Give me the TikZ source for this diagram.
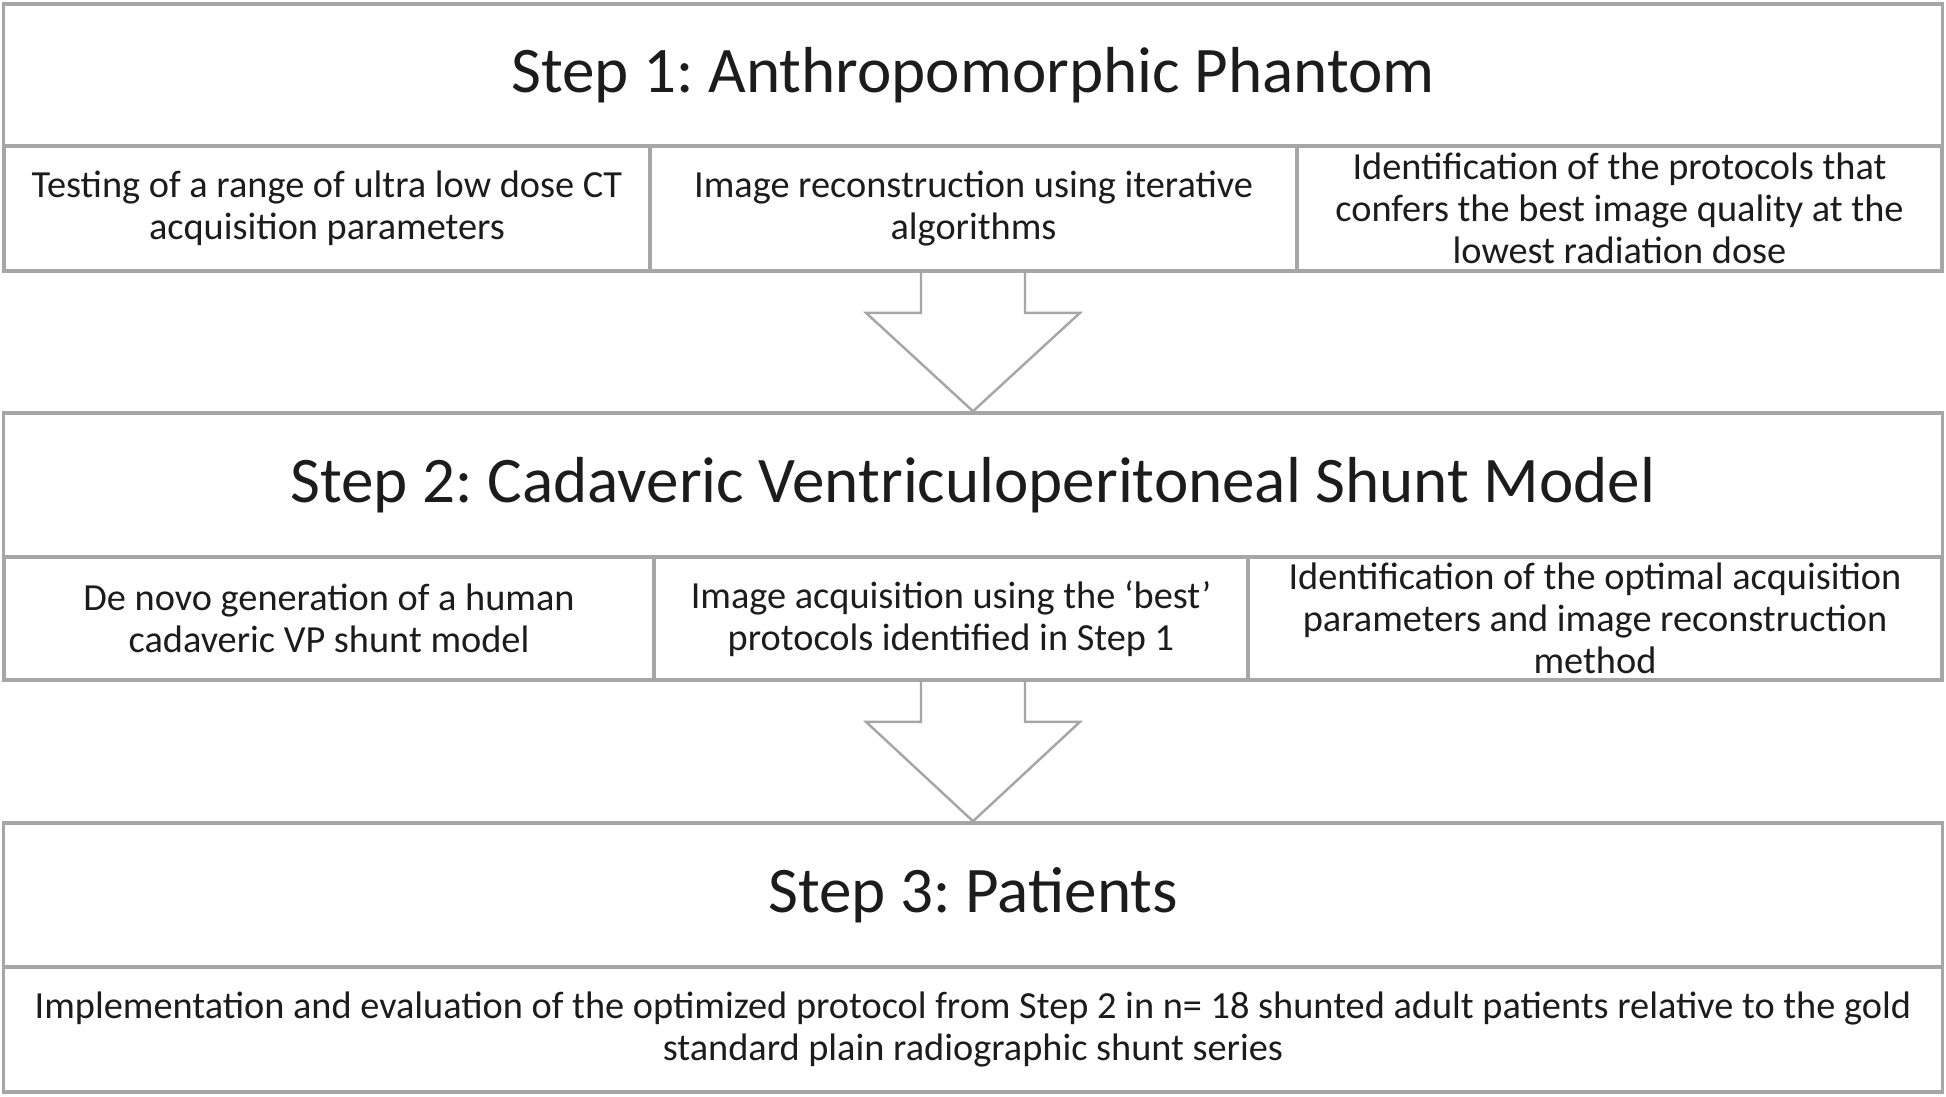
\documentclass[tikz,border=0pt]{standalone}
\usepackage{fontspec}
\setmainfont{Carlito}
\usetikzlibrary{calc}
\frenchspacing

\definecolor{linegray}{RGB}{166,166,166}
\definecolor{inkgray}{RGB}{28,28,28}

\begin{document}
\begin{tikzpicture}[x=0.01cm,y=-0.01cm,line join=miter,
	steptitle/.style={draw=linegray,line width=1pt,minimum width=19.38cm,minimum height=#1,inner sep=0pt,text=inkgray,font=\fontsize{18.5}{22}\selectfont},
	taskcell/.style={draw=linegray,line width=1pt,minimum width=#1,minimum height=1.25cm,inner sep=0pt,align=center,text=inkgray,font=\fontsize{10.9}{12}\selectfont},
	blockarrow/.style={draw=linegray,line width=0.7pt}]
		\useasboundingbox (0,0) rectangle (1946,1096);
		% step 1
		\node[steptitle=1.42cm] (t1) at (973,75) {Step 1: Anthropomorphic Phantom};
		\node[taskcell=6.46cm] (t1a) at (327,208.5) {Testing of a range of ultra low dose CT\\acquisition parameters};
		\node[taskcell=6.47cm] (t1b) at (973.5,208.5) {Image reconstruction using iterative\\algorithms};
		\node[taskcell=6.45cm] (t1c) at (1619.5,208.5) {Identification of the protocols that\\confers the best image quality at the\\lowest radiation dose};
		% step 2
		\node[steptitle=1.44cm] (t2) at (973,485) {Step 2: Cadaveric Ventriculoperitoneal Shunt Model};
		\node[taskcell=6.50cm,minimum height=1.23cm] (t2a) at (329,618.5) {De novo generation of a human\\cadaveric VP shunt model};
		\node[taskcell=5.94cm,minimum height=1.23cm] (t2b) at (951,618.5) {Image acquisition using the ‘best’\\protocols identified in Step 1};
		\node[taskcell=6.94cm,minimum height=1.23cm] (t2c) at (1595,618.5) {Identification of the optimal acquisition\\parameters and image reconstruction\\method};
		% step 3
		\node[steptitle=1.44cm] (t3) at (973,895) {Step 3: Patients};
		\node[taskcell=19.38cm] (t3a) at (973,1029.5) {Implementation and evaluation of the optimized protocol from Step 2 in n= 18 shunted adult patients relative to the gold\\standard plain radiographic shunt series};
		% arrows
		\path (t1b.south -| t2.north) ++(-52,0) coordinate (a1l) ++(104,0) coordinate (a1r);
		\draw[blockarrow] (a1l) -- ++(0,40) -- ++(-55,0) -- (t2.north) -- ($(a1r)+(55,40)$) -- ++(-55,0) -- (a1r);
		\path (t2b.south -| t3.north) ++(-52,0) coordinate (a2l) ++(104,0) coordinate (a2r);
		\draw[blockarrow] (a2l) -- ++(0,40) -- ++(-55,0) -- (t3.north) -- ($(a2r)+(55,40)$) -- ++(-55,0) -- (a2r);
	\end{tikzpicture}
\end{document}
